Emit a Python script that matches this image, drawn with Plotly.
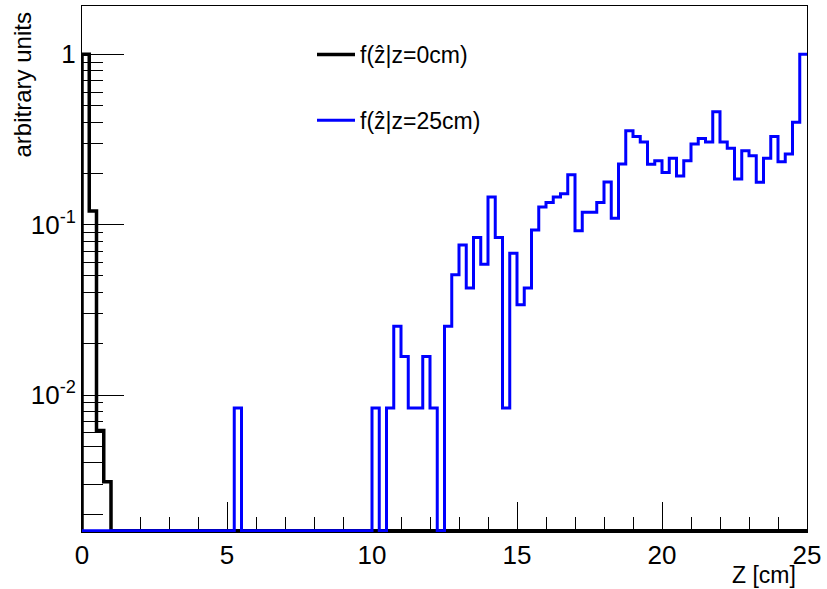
import plotly.graph_objects as go

# ---- data ----
bin_width = 0.25
n_bins = 100

# f(z_hat | z = 0 cm): non-zero first bins, rest empty
black_vals = [1.0, 0.12, 0.0062, 0.0031] + [0.0] * 96

# f(z_hat | z = 25 cm)
blue_vals = (
    [0.0] * 21 + [0.0084] + [0.0] * 18 +                     # bins 0..39
    [0.0084, 0.0, 0.0084, 0.0253, 0.0168, 0.0084, 0.0084,    # 40..46
     0.0168, 0.0084, 0.0, 0.0253, 0.0508, 0.076, 0.0424,     # 47..53
     0.084, 0.0586, 0.145, 0.084, 0.0084, 0.068, 0.0339,     # 54..60
     0.0424, 0.093, 0.127, 0.135, 0.145, 0.152, 0.196,       # 61..67
     0.092, 0.118, 0.118, 0.135, 0.178, 0.109, 0.227,        # 68..74
     0.356, 0.329, 0.305, 0.226, 0.237, 0.202, 0.245,        # 75..81
     0.193, 0.237, 0.297, 0.320, 0.305, 0.459, 0.305,        # 82..88
     0.281, 0.185, 0.271, 0.254, 0.177, 0.245, 0.329,        # 89..95
     0.234, 0.260, 0.399, 1.0]                               # 96..99
)

series_names = ["f(ẑ|z=0cm)", "f(ẑ|z=25cm)"]
series_colors = ["#000000", "#0000ff"]
series_widths = [3.5, 3]

x_ticks = [0, 5, 10, 15, 20, 25]
y_ticks = [0.01, 0.1, 1]
y_ticktext = ["10<sup>-2</sup>", "10<sup>-1</sup>", "1"]

y_log_range = [-2.804, 0.283]
# empty bins are drawn on the axis floor (as ROOT does on a log scale)
floor_val = 10 ** (y_log_range[0] + 0.008)

FONT = "Liberation Sans, Arial, Helvetica, sans-serif"


def step_xy(vals):
    edges = [i * bin_width for i in range(n_bins + 1)]
    ys = [v if v > 0 else floor_val for v in vals]
    x = [edges[0]] + edges[:-1] + [edges[-1]]
    y = [floor_val] + ys + [ys[-1]]
    return x, y


fig = go.Figure()
for i, vals in enumerate([black_vals, blue_vals]):
    x, y = step_xy(vals)
    fig.add_trace(go.Scatter(
        x=x, y=y, mode="lines", line_shape="hv",
        line=dict(color=series_colors[i], width=series_widths[i]),
        name=series_names[i], legendgroup=str(i), hoverinfo="skip",
    ))

minor_y = [m * 10 ** e for e in (-3, -2, -1) for m in range(2, 10)]

fig.update_layout(
    width=827, height=589,
    margin=dict(l=82, r=20, t=6, b=57),
    paper_bgcolor="white", plot_bgcolor="white",
    font=dict(family=FONT, color="black"),
    showlegend=True,
    legend=dict(
        x=(312 - 82) / 725, y=(532 - 33) / 526, xanchor="left", yanchor="top",
        bgcolor="rgba(0,0,0,0)", font=dict(size=23, family=FONT),
        tracegroupgap=33, itemwidth=38,
    ),
    xaxis=dict(
        range=[0, 25], showgrid=False, zeroline=False, layer="below traces",
        tickmode="array", tickvals=x_ticks,
        ticks="inside", ticklen=30, tickwidth=1, tickcolor="black",
        minor=dict(dtick=1, ticks="inside", ticklen=15, tickwidth=1, tickcolor="black"),
        showline=True, linecolor="black", linewidth=1, mirror=True,
        tickfont=dict(size=26, family=FONT),
    ),
    yaxis=dict(
        type="log", range=y_log_range, showgrid=False, zeroline=False,
        tickmode="array", tickvals=y_ticks, ticktext=y_ticktext,
        ticks="inside", ticklen=42, tickwidth=1, tickcolor="black",
        minor=dict(tickmode="array", tickvals=minor_y, ticks="inside",
                   ticklen=21, tickwidth=1, tickcolor="black"),
        showline=True, linecolor="black", linewidth=1, mirror=True,
        tickfont=dict(size=26, family=FONT),
    ),
    annotations=[
        dict(text="arbitrary units", textangle=-90, showarrow=False,
             xref="paper", yref="paper",
             x=(22 - 82) / 725, y=(532 - 11) / 526,
             xanchor="center", yanchor="top",
             font=dict(size=24, family=FONT)),
        dict(text="Z [cm]", showarrow=False, xref="paper", yref="paper",
             x=(798 - 82) / 725, y=(532 - 575) / 526,
             xanchor="right", yanchor="middle",
             font=dict(size=23, family=FONT)),
    ],
)

fig.write_html("out.html", config={"displayModeBar": False},
               post_script="document.body.style.margin='0';")
